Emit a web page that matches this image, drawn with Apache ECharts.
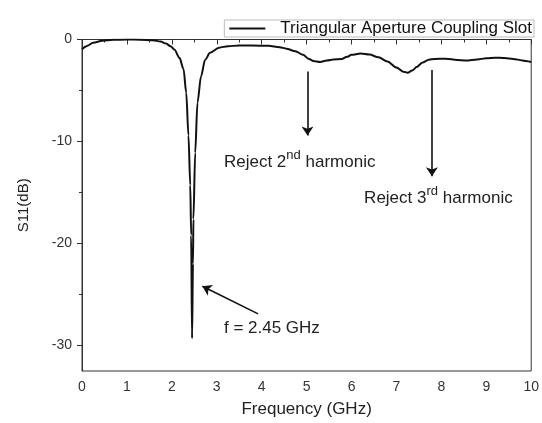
<!DOCTYPE html>
<html>
<head>
<meta charset="utf-8">
<script src="https://cdn.jsdelivr.net/npm/echarts@6/dist/echarts.min.js"></script>
<style>
html,body{margin:0;padding:0;background:#fff;}
#c{width:542px;height:423px;}
</style>
</head>
<body>
<div id="c"></div>
<script>
// Frequency (GHz) samples
var freq = [0.00,0.10,0.25,0.45,0.70,1.00,1.30,1.58,1.75,1.87,1.97,2.06,2.17,2.26,2.32,2.37,2.41,2.43,2.45,2.47,2.48,2.52,2.57,2.65,2.74,2.85,3.05,3.25,3.50,3.80,4.15,4.40,4.55,4.75,4.92,5.05,5.15,5.30,5.45,5.60,5.78,5.90,6.00,6.20,6.40,6.60,6.80,7.00,7.15,7.25,7.35,7.45,7.58,7.72,7.85,8.10,8.35,8.55,8.80,9.00,9.20,9.40,9.60,9.80,10.00];
// S11 (dB) values
var s11 = [-0.95,-0.65,-0.33,-0.12,-0.03,0.00,-0.02,-0.07,-0.2,-0.4,-0.65,-1.0,-1.8,-2.9,-5.2,-9.4,-14.3,-19.2,-29.3,-22.0,-17.6,-11.1,-6.2,-3.6,-2.0,-1.3,-0.8,-0.65,-0.6,-0.6,-0.62,-0.75,-0.9,-1.15,-1.5,-1.9,-2.1,-2.2,-2.05,-1.95,-1.92,-1.7,-1.5,-1.38,-1.48,-1.75,-2.15,-2.75,-3.15,-3.25,-3.05,-2.7,-2.25,-1.98,-1.9,-1.88,-2.0,-2.05,-1.95,-1.85,-1.78,-1.82,-1.9,-2.05,-2.2];
var seriesName = 'Triangular Aperture Coupling Slot';
var xTicks = [0,1,2,3,4,5,6,7,8,9,10];
var yTickLabels = [0,-10,-20,-30];
var yMinorTicks = [-5,-15,-25];
// Annotation arrows: [fromX, fromY, toX, toY] in data units
var arrow2nd = [5.02,-3.14,5.02,-9.41];
var arrow3rd = [7.79,-2.98,7.79,-13.4];
var arrowF = [3.92,-26.9,2.68,-24.2];
// Annotation text anchors (left edge, vertical centre) in data units
var text2nd = [3.16,-11.76];
var text3rd = [6.28,-15.37];
var textF = [3.16,-28.34];

var FONT = '"Liberation Sans", Arial, sans-serif';
var data = freq.map(function(f,i){return [f,s11[i]];});

function arrowLine(a){
  return [{coord:[a[0],a[1]]},{coord:[a[2],a[3]]}];
}
function textPoint(p, txt){
  return {coord:p, value:0, label:{formatter:txt}};
}

var chart = echarts.init(document.getElementById('c'), null, {renderer:'canvas'});
chart.setOption({
  animation:false,
  backgroundColor:'#fff',
  textStyle:{fontFamily:FONT},
  grid:{left:82,right:8,top:39.5,bottom:50.5,show:true,borderColor:'#333',borderWidth:1,backgroundColor:'transparent'},
  legend:{
    right:8, top:20,
    data:[seriesName],
    icon:'rect', itemWidth:36, itemHeight:2, itemGap:0,
    borderColor:'#bbb', borderWidth:1, padding:[0,2,0,5],
    textStyle:{fontFamily:FONT,fontSize:17,color:'#111',lineHeight:15,padding:[0,0,0,10]}
  },
  xAxis:{
    type:'value', min:0, max:10, interval:1,
    name:'Frequency (GHz)', nameLocation:'middle', nameGap:30,
    nameTextStyle:{fontFamily:FONT,fontSize:17,color:'#222'},
    axisLine:{show:true,lineStyle:{color:'#333',width:1}},
    axisTick:{show:true,length:5,inside:false,lineStyle:{color:'#333'}},
    minorTick:{show:true,splitNumber:2,length:3,lineStyle:{color:'#333'}},
    axisLabel:{fontFamily:FONT,fontSize:14,color:'#333',margin:9,customValues:xTicks},
    splitLine:{show:false}
  },
  yAxis:[{
    type:'value', min:-32.5, max:0,
    name:'S11(dB)', nameLocation:'middle', nameGap:51, nameRotate:90,
    nameTextStyle:{fontFamily:FONT,fontSize:15,color:'#222'},
    axisLine:{show:true,lineStyle:{color:'#333',width:1}},
    axisTick:{show:true,length:5,customValues:yTickLabels,lineStyle:{color:'#333'}},
    axisLabel:{fontFamily:FONT,fontSize:14,color:'#333',margin:10,customValues:yTickLabels},
    splitLine:{show:false}
  },{
    type:'value', min:-32.5, max:0, position:'left', offset:0,
    axisLine:{show:false},
    axisTick:{show:true,length:3,customValues:yMinorTicks,lineStyle:{color:'#333'}},
    axisLabel:{show:false},
    splitLine:{show:false}
  }],
  series:[{
    name:seriesName,
    type:'line',
    data:data,
    showSymbol:false,
    smooth:0.3,
    smoothMonotone:'x',
    lineStyle:{color:'#111',width:2},
    itemStyle:{color:'#111'},
    markLine:{
      silent:true,
      symbol:['none','arrow'],
      symbolSize:9,
      label:{show:false},
      lineStyle:{color:'#111',width:1.6,type:'solid'},
      data:[arrowLine(arrow2nd),arrowLine(arrow3rd),arrowLine(arrowF)]
    },
    markPoint:{
      silent:true,
      symbol:'circle',
      symbolSize:0,
      itemStyle:{color:'transparent'},
      label:{
        show:true, position:'right', distance:0,
        fontFamily:FONT, fontSize:17, color:'#222',
        rich:{
          a:{fontFamily:FONT,fontSize:17,color:'#222',lineHeight:22,verticalAlign:'bottom'},
          s:{fontFamily:FONT,fontSize:13,color:'#222',lineHeight:22,verticalAlign:'top'}
        }
      },
      data:[
        textPoint(text2nd,'{a|Reject 2}{s|nd}{a| harmonic}'),
        textPoint(text3rd,'{a|Reject 3}{s|rd}{a| harmonic}'),
        textPoint(textF,'f = 2.45 GHz')
      ]
    }
  }]
});
</script>
</body>
</html>
